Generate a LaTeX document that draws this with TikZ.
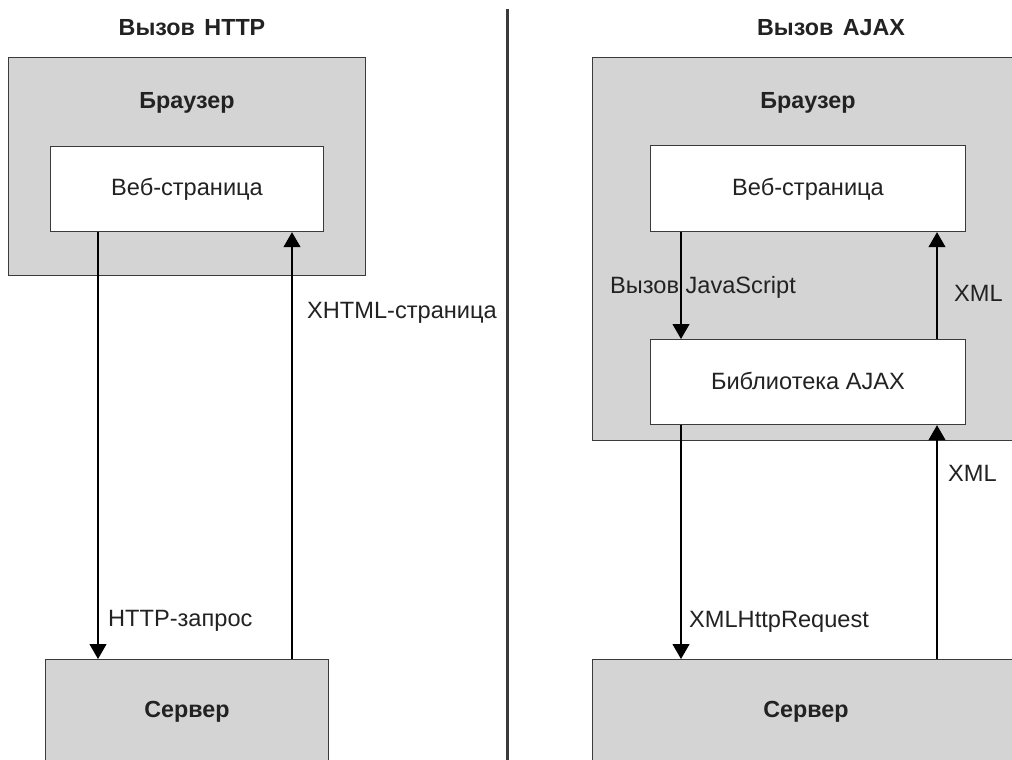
\documentclass[tikz,border=0pt]{standalone}
\usepackage{fontspec}
\setmainfont{Liberation Sans}
\usetikzlibrary{arrows.meta}
\definecolor{boxgray}{HTML}{D4D4D4}
\definecolor{edge}{HTML}{3A3A3A}
\definecolor{ink}{HTML}{222222}

\begin{document}
\begin{tikzpicture}[x=1pt,y=-1pt,
  panel/.style={draw=edge, line width=1.2pt, fill=boxgray, anchor=north west, inner sep=0},
  page/.style={draw=edge, line width=1.2pt, fill=white, anchor=north west, inner sep=0},
  heading/.style={font=\fontsize{23.3}{28}\selectfont\bfseries, text=ink, inner sep=0, anchor=base},
  plain/.style={font=\fontsize{23.6}{28}\selectfont, text=ink, inner sep=0, anchor=base},
  tag/.style={plain, anchor=base west},
  flow/.style={draw=black, line width=1.1pt, -{Triangle[width=17pt,length=15pt]}},
]
\useasboundingbox (0,0) rectangle (1012,760);
\clip (0,0) rectangle (1012,760);
\fill[white] (0,0) rectangle (1012,760);

% column positions of the vertical connectors
\coordinate (xa) at (98,0);
\coordinate (xb) at (292,0);
\coordinate (xc) at (681,0);
\coordinate (xd) at (937,0);

% ---------- HTTP call ----------
\node[heading] (t1) at (192,36) {Вызов\hspace{3pt} HTTP};
\node[panel, minimum width=357pt, minimum height=218pt] (lbr) at (8,57) {};
\node[heading] (lbrt) at (187,108) {Браузер};
\node[page, minimum width=273pt, minimum height=85pt] (lweb) at (50,146) {};
\node[plain] (lwebt) at (187,195) {Веб-страница};
\node[panel, minimum width=283pt, minimum height=130pt] (lsrv) at (45,659) {};
\node[heading] (lsrvt) at (187,717) {Сервер};

\draw[flow] (lweb.south -| xa) -- (lsrv.north -| xa);
\draw[flow] (lsrv.north -| xb) -- (lweb.south -| xb);
\node[tag] (l1) at (108,626) {HTTP-запрос};
\node[tag] (l2) at (307,318) {XHTML-страница};

% ---------- divider ----------
\coordinate (dtop) at (507,9);
\coordinate (dbot) at (507,770);
\draw[edge, line width=3pt] (dtop) -- (dbot);

% ---------- AJAX call ----------
\node[heading] (t2) at (831,36) {Вызов\hspace{3pt} AJAX};
\node[panel, minimum width=440pt, minimum height=383pt] (rbr) at (592,57) {};
\node[heading] (rbrt) at (808,108) {Браузер};
\node[page, minimum width=315pt, minimum height=86pt] (rweb) at (650,145) {};
\node[plain] (rwebt) at (808,195) {Веб-страница};
\node[page, minimum width=315pt, minimum height=85pt] (rlib) at (650,339) {};
\node[plain] (rlibt) at (808,389) {Библиотека AJAX};
\node[panel, minimum width=440pt, minimum height=130pt] (rsrv) at (592,659) {};
\node[heading] (rsrvt) at (806,717) {Сервер};

\draw[flow] (rweb.south -| xc) -- (rlib.north -| xc);
\draw[flow] (rlib.north -| xd) -- (rweb.south -| xd);
\draw[flow] (rlib.south -| xc) -- (rsrv.north -| xc);
\draw[flow] (rsrv.north -| xd) -- (rlib.south -| xd);
\node[tag] (r1) at (610,293) {Вызов JavaScript};
\node[tag] (r2) at (954,301) {XML};
\node[tag] (r3) at (948,481) {XML};
\node[tag] (r4) at (689,627) {XMLHttpRequest};
\end{tikzpicture}
\end{document}
